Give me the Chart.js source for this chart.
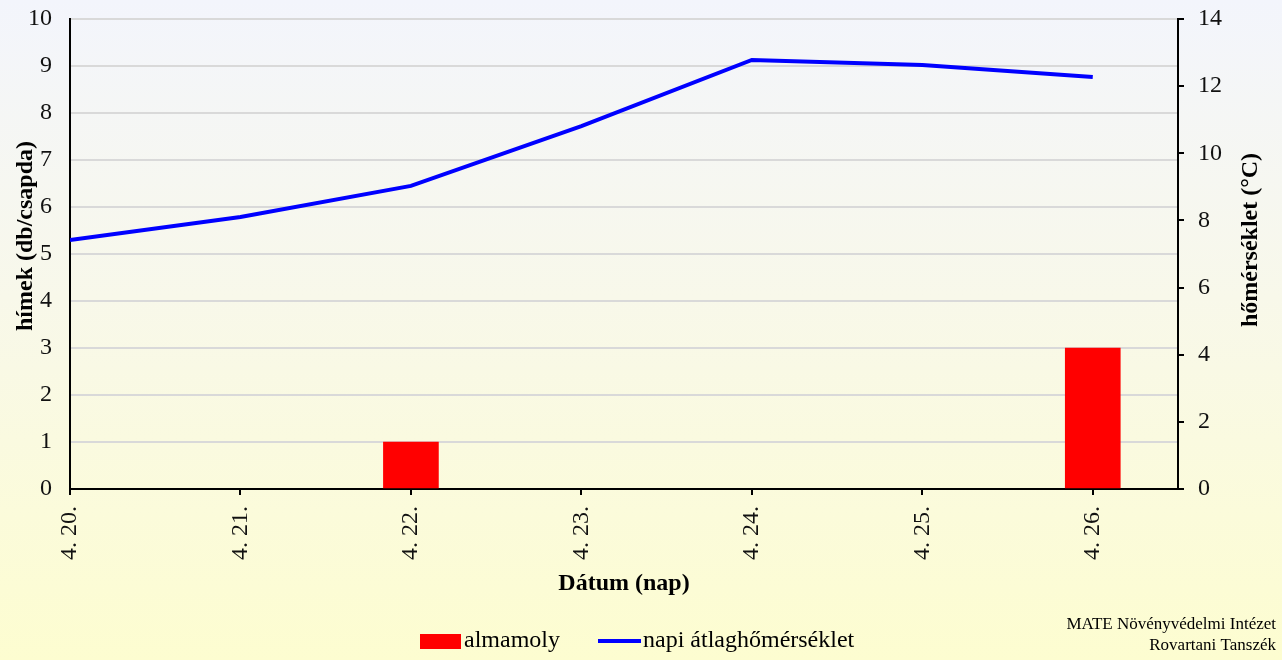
<!DOCTYPE html>
<html>
<head>
<meta charset="utf-8">
<script src="https://cdn.jsdelivr.net/npm/chart.js@4/dist/chart.umd.min.js"></script>
<style>
  html, body { margin: 0; padding: 0; }
  body { width: 1282px; height: 660px; background: linear-gradient(to bottom, #f3f5fc 0%, #f8f8ea 45%, #fdfdd0 100%); }
  #wrap { position: relative; width: 1282px; height: 660px; }
</style>
</head>
<body>
<div id="wrap"><canvas id="c" width="1282" height="660"></canvas></div>
<script>
const categories = ['4. 20.', '4. 21.', '4. 22.', '4. 23.', '4. 24.', '4. 25.', '4. 26.'];
const moths = [0, 0, 1, 0, 0, 0, 3];
const temps = [7.42, 8.1, 9.03, 10.81, 12.78, 12.63, 12.27];
const leftTicks = [0, 1, 2, 3, 4, 5, 6, 7, 8, 9, 10];
const rightTicks = [0, 2, 4, 6, 8, 10, 12, 14];

const serif = '"Liberation Serif", "Times New Roman", serif';

function sideTitle(ctx, text, x, y) {
  ctx.save();
  ctx.fillStyle = '#000';
  ctx.font = 'bold 24px ' + serif;
  ctx.textAlign = 'center';
  ctx.textBaseline = 'middle';
  ctx.translate(x, y);
  ctx.rotate(-Math.PI / 2);
  ctx.fillText(text, 0, 0);
  ctx.restore();
}

// legend, axis side titles and credit drawn by hand
const extras = {
  id: 'extras',
  afterDraw(chart) {
    const ctx = chart.ctx;
    sideTitle(ctx, 'hímek (db/csapda)', 26, 236);
    sideTitle(ctx, 'hőmérséklet (°C)', 1251, 240);

    ctx.save();
    const bar = chart.data.datasets[0], line = chart.data.datasets[1];
    ctx.fillStyle = bar.backgroundColor;
    ctx.fillRect(420, 634, 41, 15);
    ctx.font = '24px ' + serif;
    ctx.textBaseline = 'middle';
    ctx.fillStyle = '#000';
    ctx.fillText(bar.label, 464, 641);
    ctx.strokeStyle = line.borderColor;
    ctx.lineWidth = 4;
    ctx.beginPath();
    ctx.moveTo(598, 641);
    ctx.lineTo(641, 641);
    ctx.stroke();
    ctx.fillText(line.label, 643, 641);

    ctx.font = '17px ' + serif;
    ctx.textAlign = 'right';
    ctx.fillText('MATE Növényvédelmi Intézet', 1276, 625);
    ctx.fillText('Rovartani Tanszék', 1276, 646);
    ctx.restore();
  }
};

const noVPad = (w) => (s) => { s.width = w; s.paddingTop = 0; s.paddingBottom = 0; };

new Chart(document.getElementById('c'), {
  type: 'bar',
  data: {
    datasets: [
      {
        type: 'bar',
        label: 'almamoly',
        data: moths.map((v, i) => ({ x: i, y: v === 0 ? null : v })),
        backgroundColor: '#ff0000',
        barThickness: 55,
        yAxisID: 'y',
        order: 2
      },
      {
        type: 'line',
        label: 'napi átlaghőmérséklet',
        data: temps.map((v, i) => ({ x: i, y: v })),
        borderColor: '#0000ff',
        borderWidth: 4,
        pointRadius: 0,
        tension: 0,
        yAxisID: 'y2',
        order: 1
      }
    ]
  },
  options: {
    responsive: false,
    animation: false,
    layout: { padding: { top: 19, left: 0, right: 0, bottom: 58 } },
    plugins: { legend: { display: false }, tooltip: { enabled: false } },
    scales: {
      x: {
        type: 'linear',
        min: 0,
        max: 6.5,
        offset: false,
        afterBuildTicks: (s) => { s.ticks = categories.map((c, i) => ({ value: i })); },
        afterFit: (s) => { s.height = 113; },
        grid: { offset: false, drawOnChartArea: false, drawTicks: true, tickLength: 6, color: '#000', lineWidth: 2 },
        border: { color: '#000', width: 2 },
        ticks: {
          autoSkip: false,
          maxRotation: 90,
          minRotation: 90,
          padding: 11,
          color: '#111',
          font: { family: serif, size: 24 },
          callback: (v) => categories[v]
        },
        title: {
          display: true,
          text: 'Dátum (nap)',
          color: '#000',
          font: { family: serif, size: 24, weight: 'bold' },
          padding: { top: 4, bottom: 4 }
        }
      },
      y: {
        position: 'left',
        min: 0,
        max: 10,
        afterBuildTicks: (s) => { s.ticks = leftTicks.map(v => ({ value: v })); },
        afterFit: noVPad(70),
        grid: { color: '#d9d9d9', lineWidth: 2, drawTicks: false },
        border: { color: '#000', width: 2 },
        ticks: { padding: 18, color: '#111', font: { family: serif, size: 24 } }
      },
      y2: {
        position: 'right',
        min: 0,
        max: 14,
        afterBuildTicks: (s) => { s.ticks = rightTicks.map(v => ({ value: v })); },
        afterFit: noVPad(104),
        grid: { drawOnChartArea: false, drawTicks: true, tickLength: 6, color: '#000', lineWidth: 2 },
        border: { color: '#000', width: 2 },
        ticks: { padding: 14, color: '#111', font: { family: serif, size: 24 } }
      }
    }
  },
  plugins: [extras]
});
</script>
</body>
</html>
